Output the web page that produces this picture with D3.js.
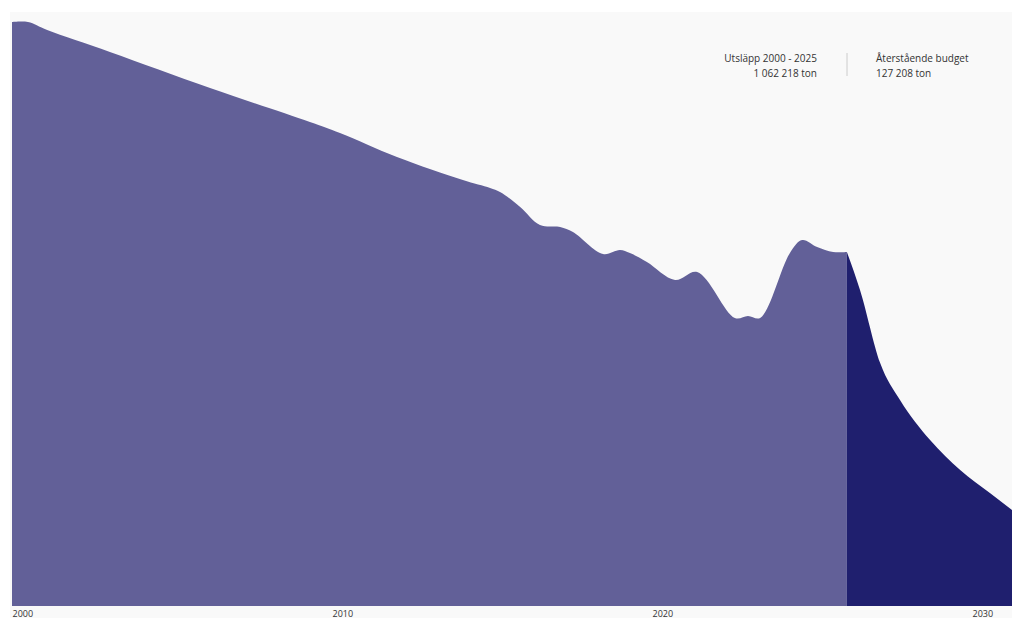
<!DOCTYPE html>
<html>
<head>
<meta charset="utf-8">
<script src="https://cdn.jsdelivr.net/npm/d3@7"></script>
<style>
  body { margin: 0; background: #fff; }
  svg { display: block; font-family: "Open Sans", sans-serif; }
</style>
</head>
<body>
<div id="chart"></div>
<script>
// Emissions (ton/yr), fractional years
var histYears = [2000.0, 2000.5, 2001.1, 2003.06, 2006.19, 2009.31, 2010.25, 2012.03, 2014.09, 2014.94,
                 2015.25, 2015.88, 2016.5, 2017.13, 2017.53, 2018.47, 2019.0, 2019.31, 2019.84, 2020.72,
                 2021.41, 2022.59, 2023.0, 2023.38, 2024.31, 2024.69, 2025.16, 2025.66, 2026.09];
var histValues = [54000, 54000, 53260, 51230, 47900, 44760, 43740, 41520, 39390, 38650,
                  38280, 36900, 35230, 35040, 34580, 32550, 32920, 32640, 31810, 30150,
                  30890, 26630, 26820, 26630, 32640, 33840, 33200, 32730, 32730];

var budgetYears = [2026.09, 2026.5, 2027.13, 2027.75, 2028.69, 2029.63, 2030.56, 2031.25];
var budgetValues = [32730, 29220, 22470, 19050, 15350, 12580, 10450, 8880];

var tickYears = [2000, 2010, 2020, 2030];
var labelLeft = ["Utsläpp 2000 - 2025", "1 062 218 ton"];
var labelRight = ["Återstående budget", "127 208 ton"];

var width = 1012, height = 618;
var svg = d3.select("#chart").append("svg")
    .attr("width", width)
    .attr("height", height);

// panel background
svg.append("rect")
    .attr("x", 10).attr("y", 12)
    .attr("width", width - 10).attr("height", height - 12)
    .attr("fill", "#f9f9f9");

var x = d3.scaleLinear().domain([2000, 2030]).range([12, 972]);
var y = d3.scaleLinear().domain([0, 54000]).range([606, 22]);

var histArea = d3.area()
    .x(function(d) { return x(d[0]); })
    .y0(y(0))
    .y1(function(d) { return y(d[1]); })
    .curve(d3.curveCatmullRom.alpha(0.5));

var budgetArea = d3.area()
    .x(function(d) { return x(d[0]); })
    .y0(y(0))
    .y1(function(d) { return y(d[1]); })
    .curve(d3.curveMonotoneX);

svg.append("path")
    .datum(d3.zip(histYears, histValues))
    .attr("d", histArea)
    .attr("fill", "#626098");

svg.append("path")
    .datum(d3.zip(budgetYears, budgetValues))
    .attr("d", budgetArea)
    .attr("fill", "#1f1f6e");

// x axis, labels only
var axis = svg.append("g")
    .attr("transform", "translate(0," + 606 + ")")
    .call(d3.axisBottom(x).tickValues(tickYears).tickSize(0).tickFormat(d3.format("d")));
axis.select(".domain").remove();
axis.selectAll("text")
    .attr("text-anchor", "start")
    .attr("y", 10.5)
    .attr("dy", 0)
    .style("font-family", "'Open Sans', sans-serif")
    .style("font-size", "9px")
    .attr("fill", "#333");

// summary labels
var lg = svg.append("g").style("font-size", "10px").attr("fill", "#333");
lg.selectAll("text.left")
    .data(labelLeft)
    .enter().append("text")
    .attr("class", "left")
    .attr("x", 817)
    .attr("y", function(d, i) { return 62 + i * 15; })
    .attr("text-anchor", "end")
    .text(function(d) { return d; });
lg.selectAll("text.right")
    .data(labelRight)
    .enter().append("text")
    .attr("class", "right")
    .attr("x", 876)
    .attr("y", function(d, i) { return 62 + i * 15; })
    .attr("text-anchor", "start")
    .text(function(d) { return d; });
svg.append("line")
    .attr("x1", 847).attr("x2", 847)
    .attr("y1", 53).attr("y2", 76)
    .attr("stroke", "#ccc")
    .attr("stroke-width", 1);
</script>
</body>
</html>
